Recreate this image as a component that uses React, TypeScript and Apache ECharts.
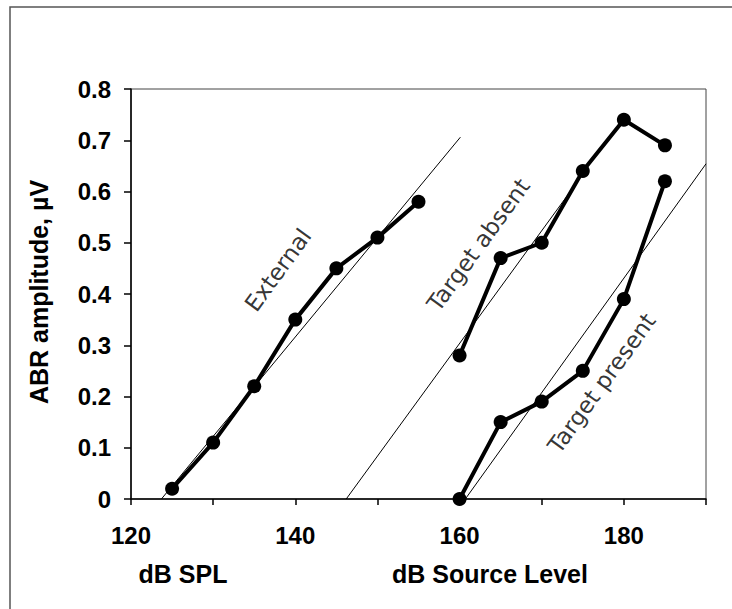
import React, { useEffect, useRef } from "react";
import * as echarts from "echarts";

// ---- data ----
const externalX = [125, 130, 135, 140, 145, 150, 155];
const externalY = [0.02, 0.11, 0.22, 0.35, 0.45, 0.51, 0.58];

const absentX = [160, 165, 170, 175, 180, 185];
const absentY = [0.28, 0.47, 0.5, 0.64, 0.74, 0.69];

const presentX = [160, 165, 170, 175, 180, 185];
const presentY = [0.0, 0.15, 0.19, 0.25, 0.39, 0.62];

// thin reference lines (start / end points in data units)
const refExternal = [
  [123.7, 0],
  [160.1, 0.706],
];
const refAbsent = [
  [146.2, 0],
  [174.3, 0.618],
];
const refPresent = [
  [160.7, 0],
  [190, 0.654],
];

// rotated annotation labels (centre positions in data units)
const annoText = ["External", "Target absent", "Target present"];
const annoX = [137.9, 162.3, 177.3];
const annoY = [0.447, 0.496, 0.226];

const xTickLabels = [120, 140, 160, 180];
const yTickValues = [0, 0.1, 0.2, 0.3, 0.4, 0.5, 0.6, 0.7, 0.8];

const xTitles = ["dB SPL", "dB Source Level"];
const yTitle = "ABR amplitude, \u00b5V";

const zip = (xs: number[], ys: number[]) => xs.map((x, i) => [x, ys[i]]);

export default function App() {
  const ref = useRef<HTMLDivElement>(null);

  useEffect(() => {
    document.body.style.margin = "0";
    const chart = echarts.init(ref.current!, undefined, { renderer: "svg" });
    const font = '"Liberation Sans", Arial, sans-serif';

    const dataLine = (name: string, data: number[][]) => ({
      name,
      type: "line",
      data,
      symbol: "circle",
      symbolSize: 14,
      lineStyle: { color: "#000", width: 4 },
      itemStyle: { color: "#000" },
      z: 5,
    });
    const refLine = (name: string, data: number[][]) => ({
      name,
      type: "line",
      data,
      symbol: "none",
      lineStyle: { color: "#000", width: 1 },
      z: 3,
    });

    chart.setOption({
      animation: false,
      backgroundColor: "#fff",
      grid: {
        left: 131,
        top: 89,
        right: 26,
        bottom: 110,
        show: true,
        borderColor: "#444",
        borderWidth: 1,
        backgroundColor: "transparent",
      },
      xAxis: {
        type: "value",
        min: 120,
        max: 190,
        interval: 10,
        splitLine: { show: false },
        axisLine: { lineStyle: { color: "#000", width: 1.5 } },
        axisTick: { show: true, length: 6, lineStyle: { color: "#000", width: 1.5 } },
        axisLabel: {
          color: "#000",
          fontFamily: font,
          fontWeight: "bold",
          fontSize: 24,
          margin: 24,
          formatter: (v: number) => (xTickLabels.includes(v) ? String(v) : ""),
        },
      },
      yAxis: {
        type: "value",
        min: 0,
        max: 0.8,
        interval: 0.1,
        splitLine: { show: false },
        axisLine: { show: true, lineStyle: { color: "#000", width: 1.5 } },
        axisTick: { show: true, length: 7, lineStyle: { color: "#000", width: 1.5 } },
        axisLabel: {
          color: "#000",
          fontFamily: font,
          fontWeight: "bold",
          fontSize: 24,
          margin: 20,
          formatter: (v: number) => {
            const t = yTickValues.find((y) => Math.abs(y - v) < 1e-6);
            return t === undefined ? "" : t === 0 ? "0" : t.toFixed(1);
          },
        },
      },
      series: [
        refLine("refExternal", refExternal),
        refLine("refAbsent", refAbsent),
        refLine("refPresent", refPresent),
        dataLine("External", zip(externalX, externalY)),
        dataLine("Target absent", zip(absentX, absentY)),
        dataLine("Target present", zip(presentX, presentY)),
        {
          name: "annotations",
          type: "scatter",
          symbolSize: 0,
          data: annoText.map((t, i) => ({ value: [annoX[i], annoY[i]], name: t })),
          label: {
            show: true,
            position: "inside",
            formatter: (p: any) => p.name,
            rotate: 54,
            color: "#000",
            fontFamily: '"DejaVu Sans", sans-serif',
            fontSize: 23,
            align: "center",
            verticalAlign: "middle",
          },
          z: 6,
        },
      ],
      graphic: [
        {
          type: "rect",
          shape: { x: 10, y: 7, width: 800, height: 700 },
          style: { fill: "none", stroke: "#555", lineWidth: 1.5 },
          z: -1,
          silent: true,
        },
        {
          type: "text",
          x: 183,
          y: 574,
          style: {
            text: xTitles[0],
            fill: "#000",
            fontFamily: font,
            fontWeight: "bold",
            fontSize: 25,
            align: "center",
            verticalAlign: "middle",
          },
        },
        {
          type: "text",
          x: 490,
          y: 574,
          style: {
            text: xTitles[1],
            fill: "#000",
            fontFamily: font,
            fontWeight: "bold",
            fontSize: 25,
            align: "center",
            verticalAlign: "middle",
          },
        },
        {
          type: "text",
          x: 39,
          y: 292,
          rotation: Math.PI / 2,
          style: {
            text: yTitle,
            fill: "#000",
            fontFamily: font,
            fontWeight: "bold",
            fontSize: 25,
            align: "center",
            verticalAlign: "middle",
          },
        },
      ],
    });

    return () => chart.dispose();
  }, []);

  return <div ref={ref} style={{ width: 732, height: 609 }} />;
}
